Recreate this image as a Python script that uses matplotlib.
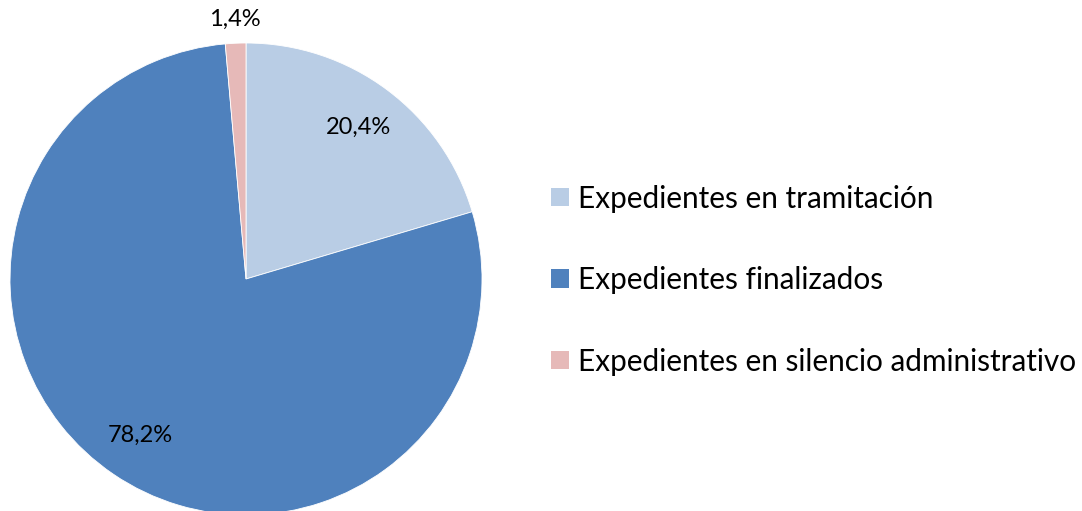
import matplotlib
matplotlib.use("Agg")
import matplotlib.pyplot as plt
from matplotlib.patches import Patch
import numpy as np

categories = ["Expedientes en tramitación", "Expedientes finalizados",
              "Expedientes en silencio administrativo"]
values = [20.4, 78.2, 1.4]
labels = ["20,4%", "78,2%", "1,4%"]
colors = ["#B9CDE5", "#4F81BD", "#E6B9B8"]
label_dist = [0.80, 0.80, 1.10]

plt.rcParams['font.family'] = ['Lato', 'DejaVu Sans']

W, H = 1082, 511
fig = plt.figure(figsize=(W / 100, H / 100), dpi=100)
cx, cy, r = 246, 279, 236
ax = fig.add_axes([(cx - r) / W, (H - cy - r) / H, 2 * r / W, 2 * r / H])
wedges, _ = ax.pie(values, colors=colors, startangle=90, counterclock=False,
                   radius=1, wedgeprops=dict(edgecolor="white", linewidth=0.6))
ax.set_xlim(-1, 1)
ax.set_ylim(-1, 1)
ax.set_aspect("equal")
ax.axis("off")

for w, lab, d in zip(wedges, labels, label_dist):
    ang = np.deg2rad((w.theta1 + w.theta2) / 2)
    ax.text(d * np.cos(ang), d * np.sin(ang), lab, ha="center", va="center",
            fontsize=17, color="black", clip_on=False)

handles = [Patch(facecolor=c, edgecolor="none") for c in colors]
fig.legend(handles, categories, loc="center left",
           bbox_to_anchor=(551 / W, (H - 280) / H), frameon=False,
           fontsize=21.4, handlelength=0.6, handleheight=0.6, handletextpad=0.3,
           labelspacing=1.8, borderaxespad=0, borderpad=0)

fig.savefig("out.png", dpi=100)
